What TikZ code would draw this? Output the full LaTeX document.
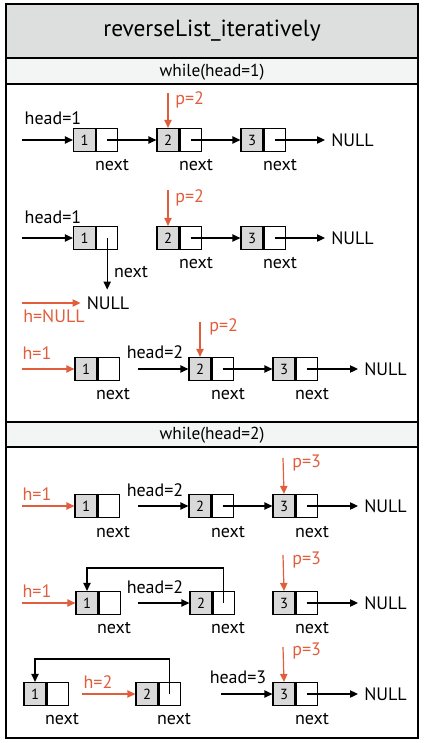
\documentclass[tikz,border=0pt]{standalone}
\usepackage{fontspec}
\setmainfont{PT Sans}
\usepackage{tikz}
\usetikzlibrary{arrows.meta}
\usetikzlibrary{positioning, calc}
\definecolor{hred}{RGB}{224,94,60}
\definecolor{cellgray}{RGB}{217,217,217}
\definecolor{titlegray}{RGB}{221,222,222}
\definecolor{bandgray}{RGB}{243,245,244}
\tikzset{
    datacell/.style = {draw=black, line width=0.9pt, fill=cellgray, inner sep=0pt,
        minimum width=16.5pt, minimum height=17.25pt, font=\fontsize{11}{13}\selectfont},
    ptrcell/.style = {draw=black, line width=0.9pt, fill=white, inner sep=0pt,
        minimum width=15.75pt, minimum height=17.25pt, right=0pt of #1},
    txt/.style = {inner sep=0pt, font=\fontsize{13.5}{16}\selectfont},
    redtxt/.style = {txt, text=hred},
    nulltxt/.style = {txt, inner xsep=4.5pt, anchor=west},
    link/.style = {->, line width=0.9pt},
    redlink/.style = {->, line width=0.9pt, draw=hred},
}
\begin{document}
\begin{tikzpicture}[x=0.75pt,y=-0.75pt,>={Triangle[length=6pt,width=5.5pt]}]
            \useasboundingbox (0,0) rectangle (424,743);
            % frame and headings
            \fill[titlegray] (6,4) rectangle (418,58);
            \fill[bandgray] (6,58) rectangle (418,84);
            \fill[bandgray] (6,422) rectangle (418,447);
            \draw[line width=1.2pt] (6,58) -- (418,58) (6,84) -- (418,84)
                (6,422) -- (418,422) (6,447) -- (418,447);
            \draw[line width=1.5pt] (6,4) rectangle (418,738);
            \node (title) [inner sep=0pt, font=\fontsize{17.5}{21}\selectfont] at (212,31) {reverseList\_iteratively};
            \node (loop1) [txt, font=\fontsize{13}{15}\selectfont] at (212,72) {while(head=1)};
            \node (loop2) [txt, font=\fontsize{13}{15}\selectfont] at (212,435) {while(head=2)};

            % step 1
            \node (a1) [datacell] at (84.5,140) {1};
            \node (a1p) [ptrcell=a1] {};
            \node (b1) [datacell] at (168,140) {2};
            \node (b1p) [ptrcell=b1] {};
            \node (c1) [datacell] at (252,140) {3};
            \node (c1p) [ptrcell=c1] {};
            \node (null1) [nulltxt] at (325,140) {NULL};
            \node (head1) [txt] at (53,118) {head=1};
            \node (p1) [redtxt, anchor=west] at (175,100) {p=2};
            \node (na1) [txt] at (112,165) {next};
            \node (nb1) [txt] at (196,165) {next};
            \node (nc1) [txt] at (280,165) {next};
            \coordinate (in1) at (22,140);
            \coordinate (pp1) at (168,93);
            \draw[link] (in1) -- (a1.west);
            \draw[link] (a1p.center) -- (b1.west);
            \draw[link] (b1p.center) -- (c1.west);
            \draw[link] (c1p.center) -- (null1.west);
            \draw[redlink] (pp1) -- (b1.north);

            % step 2
            \node (a2) [datacell] at (84.5,238) {1};
            \node (a2p) [ptrcell=a2] {};
            \node (b2) [datacell] at (168,238) {2};
            \node (b2p) [ptrcell=b2] {};
            \node (c2) [datacell] at (252,238) {3};
            \node (c2p) [ptrcell=c2] {};
            \node (null2) [nulltxt] at (325,238) {NULL};
            \node (nulla2) [txt, inner ysep=5pt] at (108,303) {NULL};
            \node (head2) [txt] at (53,217) {head=1};
            \node (p2) [redtxt, anchor=west] at (175,198) {p=2};
            \node (h2) [redtxt] at (54,316) {h=NULL};
            \node (na2) [txt] at (131,272) {next};
            \node (nb2) [txt] at (196,263) {next};
            \node (nc2) [txt] at (280,263) {next};
            \coordinate (in2) at (22,238);
            \coordinate (pp2) at (168,190);
            \coordinate (hh2) at (22,303);
            \draw[link] (in2) -- (a2.west);
            \draw[link] (a2p.center) -- (a2p.center |- nulla2.north);
            \draw[link] (b2p.center) -- (c2.west);
            \draw[link] (c2p.center) -- (null2.west);
            \draw[redlink] (pp2) -- (b2.north);
            \draw[redlink] (hh2) -- ($(nulla2.west)+(-6,0)$);

            % step 3
            \node (a3) [datacell] at (86,369) {1};
            \node (a3p) [ptrcell=a3] {};
            \node (b3) [datacell] at (200,369) {2};
            \node (b3p) [ptrcell=b3] {};
            \node (c3) [datacell] at (284,369) {3};
            \node (c3p) [ptrcell=c3] {};
            \node (null3) [nulltxt] at (358,369) {NULL};
            \node (h3) [redtxt] at (37,353) {h=1};
            \node (head3) [txt] at (155,352) {head=2};
            \node (p3) [redtxt, anchor=west] at (209,327) {p=2};
            \node (na3) [txt] at (113,394) {next};
            \node (nb3) [txt] at (228,394) {next};
            \node (nc3) [txt] at (312,394) {next};
            \coordinate (hh3) at (22,369);
            \coordinate (in3) at (138,369);
            \coordinate (pp3) at (200,322);
            \draw[redlink] (hh3) -- (a3.west);
            \draw[link] (in3) -- (b3.west);
            \draw[link] (b3p.center) -- (c3.west);
            \draw[link] (c3p.center) -- (null3.west);
            \draw[redlink] (pp3) -- (b3.north);

            % step 4
            \node (a4) [datacell] at (86,506) {1};
            \node (a4p) [ptrcell=a4] {};
            \node (b4) [datacell] at (200,506) {2};
            \node (b4p) [ptrcell=b4] {};
            \node (c4) [datacell] at (284,506) {3};
            \node (c4p) [ptrcell=c4] {};
            \node (null4) [nulltxt] at (358,506) {NULL};
            \node (h4) [redtxt] at (37,494) {h=1};
            \node (head4) [txt] at (155,490) {head=2};
            \node (p4) [redtxt, anchor=west] at (292,463) {p=3};
            \node (na4) [txt] at (113,532) {next};
            \node (nb4) [txt] at (228,532) {next};
            \node (nc4) [txt] at (312,532) {next};
            \coordinate (hh4) at (22,506);
            \coordinate (in4) at (138,506);
            \coordinate (pp4) at (283,458);
            \draw[redlink] (hh4) -- (a4.west);
            \draw[link] (in4) -- (b4.west);
            \draw[link] (b4p.center) -- (c4.west);
            \draw[link] (c4p.center) -- (null4.west);
            \draw[redlink] (pp4) -- (c4.north);

            % step 5
            \node (a5) [datacell] at (87,603) {1};
            \node (a5p) [ptrcell=a5] {};
            \node (b5) [datacell] at (201,603) {2};
            \node (b5p) [ptrcell=b5] {};
            \node (c5) [datacell] at (284,603) {3};
            \node (c5p) [ptrcell=c5] {};
            \node (null5) [nulltxt] at (358,603) {NULL};
            \node (h5) [redtxt] at (37,591) {h=1};
            \node (head5) [txt] at (155,587) {head=2};
            \node (p5) [redtxt, anchor=west] at (292,560) {p=3};
            \node (na5) [txt] at (114,628) {next};
            \node (nb5) [txt] at (228,628) {next};
            \node (nc5) [txt] at (312,628) {next};
            \coordinate (hh5) at (22,603);
            \coordinate (in5) at (138,603);
            \coordinate (pp5) at (283,555);
            \draw[redlink] (hh5) -- (a5.west);
            \draw[link] (in5) -- (b5.west);
            \draw[link] (b5p.center) -- ++(0,-35) -| (a5.north);
            \draw[link] (c5p.center) -- (null5.west);
            \draw[redlink] (pp5) -- (c5.north);

            % step 6
            \node (a6) [datacell] at (35,694) {1};
            \node (a6p) [ptrcell=a6] {};
            \node (b6) [datacell] at (147,694) {2};
            \node (b6p) [ptrcell=b6] {};
            \node (c6) [datacell] at (284,694) {3};
            \node (c6p) [ptrcell=c6] {};
            \node (null6) [nulltxt] at (358,694) {NULL};
            \node (h6) [redtxt] at (98,682) {h=2};
            \node (head6) [txt] at (238,677) {head=3};
            \node (p6) [redtxt, anchor=west] at (292,651) {p=3};
            \node (na6) [txt] at (62,719) {next};
            \node (nb6) [txt] at (174,719) {next};
            \node (nc6) [txt] at (312,719) {next};
            \coordinate (hh6) at (82,694);
            \coordinate (in6) at (221,694);
            \coordinate (pp6) at (283,647);
            \draw[redlink] (hh6) -- (b6.west);
            \draw[link] (in6) -- (c6.west);
            \draw[link] (b6p.center) -- ++(0,-35) -| (a6.north);
            \draw[link] (c6p.center) -- (null6.west);
            \draw[redlink] (pp6) -- (c6.north);
\end{tikzpicture}
\end{document}
